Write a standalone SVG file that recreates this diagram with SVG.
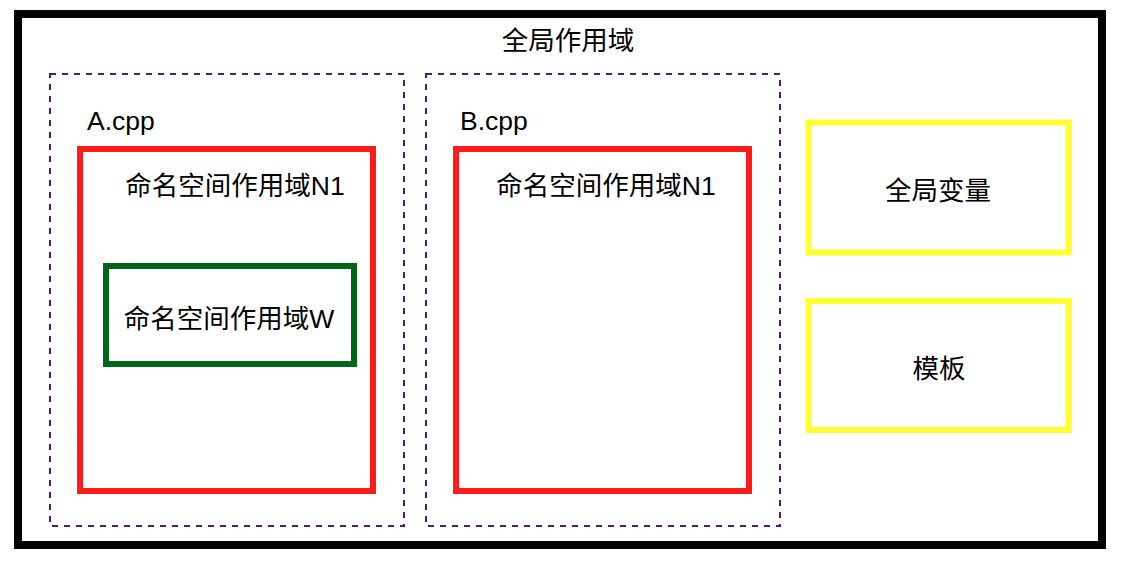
<svg xmlns="http://www.w3.org/2000/svg" width="1123" height="568" viewBox="0 0 1123 568">
<style>
text{font-family:"Liberation Sans","Noto Sans CJK SC",sans-serif;font-size:26.5px;fill:#000}
.file{fill:none;stroke:#4C1A80;stroke-width:2;stroke-dasharray:6 6}
.ns{fill:none;stroke:#FF1A1A;stroke-width:6}
.glob{fill:none;stroke:#FFFF33;stroke-width:6}
</style>
<rect width="1123" height="568" fill="#fff"/>
<g id="global">
<rect x="18" y="14" width="1084" height="531" fill="none" stroke="#000" stroke-width="8"/>
<text x="568" y="50" text-anchor="middle">全局作用域</text>
</g>
<g id="acpp">
<rect class="file" x="50" y="74" width="354" height="452"/>
<text x="87" y="130">A.cpp</text>
</g>
<g id="bcpp">
<rect class="file" x="426" y="74" width="354" height="452"/>
<text x="460" y="130">B.cpp</text>
</g>
<g id="n1a">
<rect class="ns" x="80" y="149" width="293" height="342"/>
<text x="235" y="195" text-anchor="middle">命名空间作用域N1</text>
</g>
<g id="n1b">
<rect class="ns" x="456" y="149" width="293" height="342"/>
<text x="606" y="195" text-anchor="middle">命名空间作用域N1</text>
</g>
<g id="w">
<rect x="106" y="266" width="248" height="98" fill="none" stroke="#006619" stroke-width="6"/>
<text x="229" y="328" text-anchor="middle">命名空间作用域W</text>
</g>
<g id="gvar">
<rect class="glob" x="808.5" y="122.5" width="260.5" height="130"/>
<text x="938" y="200" text-anchor="middle">全局变量</text>
</g>
<g id="tmpl">
<rect class="glob" x="808.5" y="301" width="260.5" height="129"/>
<text x="939" y="378" text-anchor="middle">模板</text>
</g>
<g id="connectors"></g>
</svg>
